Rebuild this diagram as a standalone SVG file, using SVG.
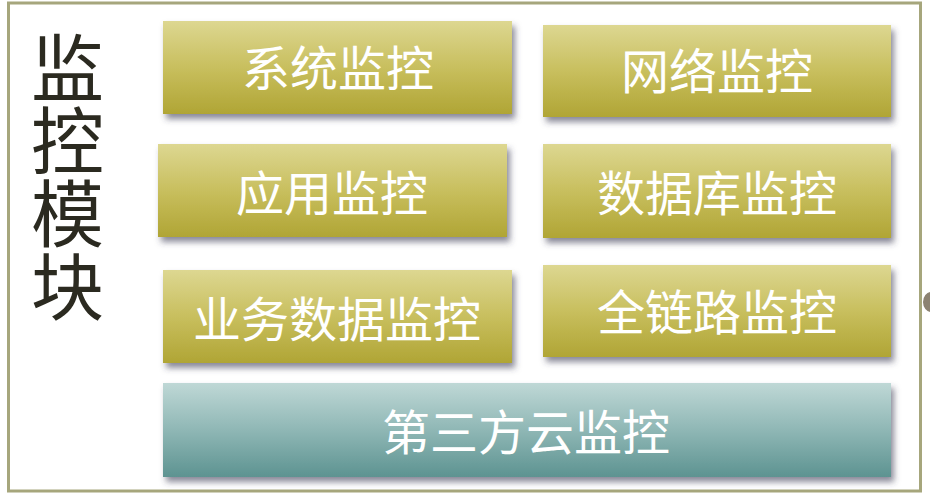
<svg xmlns="http://www.w3.org/2000/svg" width="930" height="500" viewBox="0 0 930 500">
  <defs>
    <linearGradient id="gY" x1="0" y1="0" x2="0" y2="1">
      <stop offset="0" stop-color="#ddd791"/>
      <stop offset="0.5" stop-color="#c8bf5e"/>
      <stop offset="1" stop-color="#b0a535"/>
    </linearGradient>
    <linearGradient id="gT" x1="0" y1="0" x2="0" y2="1">
      <stop offset="0" stop-color="#bfd8d6"/>
      <stop offset="0.5" stop-color="#8fb7b5"/>
      <stop offset="1" stop-color="#5d9391"/>
    </linearGradient>
    <filter id="sh" x="-10%" y="-20%" width="125%" height="150%">
      <feDropShadow dx="3" dy="5" stdDeviation="3" flood-color="#3c3c55" flood-opacity="0.6"/>
    </filter>
  </defs>
  <style>
    .box { filter: url(#sh); }
    .y { fill: url(#gY); }
    .t { fill: url(#gT); }
    .lbl { font-family: "Noto Sans CJK SC", "Noto Sans", sans-serif; font-size: 48px; fill: #ffffff; text-anchor: middle; }
    .title { font-family: "Noto Sans CJK SC", "Noto Sans", sans-serif; font-size: 73px; fill: #2b2a20; writing-mode: vertical-rl; text-anchor: start; }
  </style>
  <rect x="0" y="0" width="930" height="500" fill="#ffffff"/>
  <rect id="frame" x="8.5" y="3" width="912" height="488" fill="#ffffff" stroke="#a6a67c" stroke-width="3"/>
  <ellipse cx="931" cy="302" rx="8" ry="10" fill="#8c8272"/>

  <g id="title">
    <text class="title" x="67.5" y="31">监控模块</text>
  </g>

  <g id="connectors"></g>

  <g id="node-system">
    <rect class="box y" x="163" y="21" width="349" height="93"/>
    <text class="lbl" x="338" y="86">系统监控</text>
  </g>
  <g id="node-network">
    <rect class="box y" x="543" y="25" width="348" height="92"/>
    <text class="lbl" x="717" y="89">网络监控</text>
  </g>
  <g id="node-app">
    <rect class="box y" x="158" y="144" width="349" height="93"/>
    <text class="lbl" x="332" y="211">应用监控</text>
  </g>
  <g id="node-db">
    <rect class="box y" x="543" y="144" width="348" height="94"/>
    <text class="lbl" x="717" y="211">数据库监控</text>
  </g>
  <g id="node-biz">
    <rect class="box y" x="163" y="270" width="349" height="93"/>
    <text class="lbl" x="337" y="337">业务数据监控</text>
  </g>
  <g id="node-trace">
    <rect class="box y" x="543" y="265" width="348" height="92"/>
    <text class="lbl" x="717" y="330">全链路监控</text>
  </g>
  <g id="node-cloud">
    <rect class="box t" x="163" y="383" width="728" height="94"/>
    <text class="lbl" x="526" y="450">第三方云监控</text>
  </g>
</svg>
